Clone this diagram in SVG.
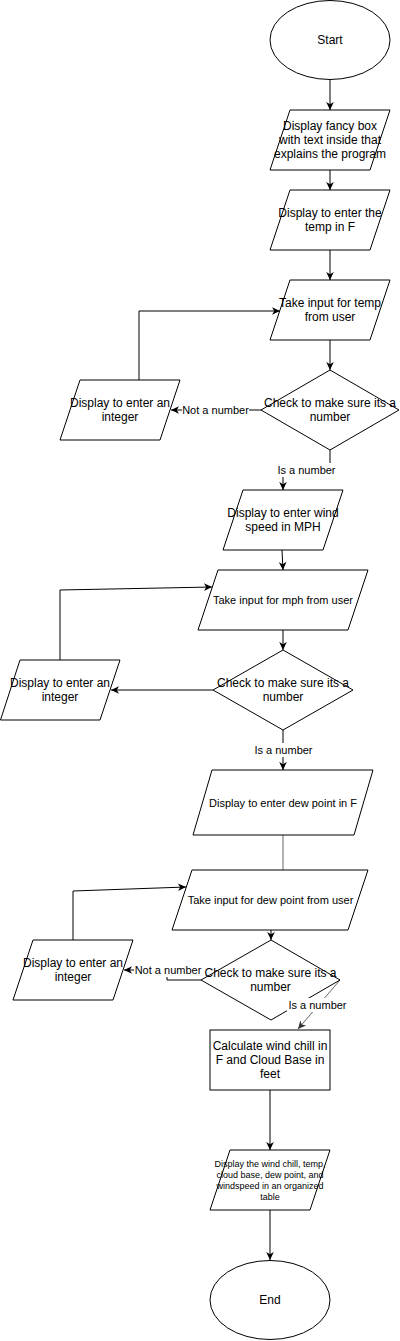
<svg xmlns="http://www.w3.org/2000/svg" width="400" height="1341" viewBox="0 0 400 1341">
<style>
.s{fill:#fff;stroke:#000;stroke-width:1}
.t{font-family:"Liberation Sans",Arial,sans-serif;font-size:12px;fill:#000;text-anchor:middle}
.m{font-size:11px}
.x{font-size:9px}
.c{fill:none;stroke:#000;stroke-width:1}
.g{stroke:#666}
.lb{fill:#fff}
.lt{font-family:"Liberation Sans",Arial,sans-serif;font-size:11px;fill:#000;text-anchor:middle}
</style>
<defs>
<marker id="a" markerUnits="userSpaceOnUse" markerWidth="10" markerHeight="10" refX="9" refY="5" orient="auto">
<path d="M1,1.2 L9,5 L1,8.8 L3.2,5 Z" fill="#000"/>
</marker>
<marker id="ag" markerUnits="userSpaceOnUse" markerWidth="10" markerHeight="10" refX="9" refY="5" orient="auto">
<path d="M1,1.2 L9,5 L1,8.8 L3.2,5 Z" fill="#333"/>
</marker>
</defs>
<g id="connectors">
<path class="c" d="M330,80 L330,110" marker-end="url(#a)"/>
<path class="c" d="M330,170 L330,190" marker-end="url(#a)"/>
<path class="c" d="M330,250 L330,280" marker-end="url(#a)"/>
<path class="c" d="M330,340 L330,370" marker-end="url(#a)"/>
<path class="c" d="M262,410 L171,410" marker-end="url(#a)"/>
<path class="c" d="M139,380 L139,311 L280,311" marker-end="url(#a)"/>
<path class="c" d="M330,450 L330,470 L283,470 L283,490" marker-end="url(#a)"/>
<path class="c" d="M282,550 L283,570" marker-end="url(#a)"/>
<path class="c" d="M283,630 L283,650" stroke-width="1.5" marker-end="url(#a)"/>
<path class="c" d="M213,690 L111,690" marker-end="url(#a)"/>
<path class="c" d="M60,660 L60,590 L212,587" marker-end="url(#a)"/>
<path class="c" d="M283,730 L283,770" marker-end="url(#a)"/>
<path class="c g" d="M283,835 L283,870"/>
<path class="c" d="M73,940 L73,891 L186,887" marker-end="url(#a)"/>
<path class="c" d="M271,930 L271,940" stroke-width="1.5" marker-end="url(#a)"/>
<path class="c" d="M201,980 L167,980 L167,970 L124,970" marker-end="url(#a)"/>
<path class="c g" d="M340,980 L298,1029" marker-end="url(#ag)"/>
<path class="c" d="M270,1090 L270,1150" marker-end="url(#a)"/>
<path class="c" d="M270,1210 L270,1260" marker-end="url(#a)"/>
</g>
<g id="start">
<ellipse class="s" cx="330" cy="40" rx="60" ry="39.5"/>
<text class="t" x="330" y="44">Start</text>
</g>
<g id="display-intro">
<polygon class="s" points="290,110 390,110 370,170 270,170"/>
<text class="t" x="330" y="130">Display fancy box</text>
<text class="t" x="330" y="144">with text inside that</text>
<text class="t" x="330" y="158">explains the program</text>
</g>
<g id="display-temp">
<polygon class="s" points="290,190 390,190 370,250 270,250"/>
<text class="t" x="330" y="217">Display to enter the</text>
<text class="t" x="330" y="231">temp in F</text>
</g>
<g id="input-temp">
<polygon class="s" points="290,280 390,280 370,340 270,340"/>
<text class="t" x="330" y="307">Take input for temp</text>
<text class="t" x="330" y="321">from user</text>
</g>
<g id="check-temp">
<polygon class="s" points="330,370 399,410 330,450 261,410"/>
<text class="t" x="330" y="407">Check to make sure its a</text>
<text class="t" x="330" y="421">number</text>
</g>
<g id="error-temp">
<polygon class="s" points="80,380 180,380 160,440 60,440"/>
<text class="t" x="120" y="407">Display to enter an</text>
<text class="t" x="120" y="421">integer</text>
</g>
<g id="display-wind">
<polygon class="s" points="243,490 343,490 323,550 223,550"/>
<text class="t" x="283" y="517">Display to enter wind</text>
<text class="t" x="283" y="531">speed in MPH</text>
</g>
<g id="input-mph">
<polygon class="s" points="218,570 368,570 348,630 198,630"/>
<text class="t m" x="283" y="604">Take input for mph from user</text>
</g>
<g id="check-mph">
<polygon class="s" points="283,650 353,690 283,730 213,690"/>
<text class="t" x="283" y="687">Check to make sure its a</text>
<text class="t" x="283" y="701">number</text>
</g>
<g id="error-mph">
<polygon class="s" points="20,660 120,660 100,720 0.5,720"/>
<text class="t" x="60" y="687">Display to enter an</text>
<text class="t" x="60" y="701">integer</text>
</g>
<g id="display-dew">
<polygon class="s" points="212,770 373,770 354,835 193,835"/>
<text class="t m" x="283" y="806.5">Display to enter dew point in F</text>
</g>
<g id="input-dew">
<polygon class="s" points="192,870 368,870 348,930 172,930"/>
<text class="t m" x="270.5" y="904">Take input for dew point from user</text>
</g>
<g id="check-dew">
<polygon class="s" points="271,940 340,980 271,1020 201,980"/>
<text class="t" x="270.5" y="977">Check to make sure its a</text>
<text class="t" x="270.5" y="991">number</text>
</g>
<g id="error-dew">
<polygon class="s" points="33,940 133,940 113,1000 13,1000"/>
<text class="t" x="73" y="967">Display to enter an</text>
<text class="t" x="73" y="981">integer</text>
</g>
<g id="calculate">
<rect class="s" x="210" y="1030" width="120" height="60"/>
<text class="t" x="270" y="1050">Calculate wind chill in</text>
<text class="t" x="270" y="1064">F and Cloud Base in</text>
<text class="t" x="270" y="1078">feet</text>
</g>
<g id="display-table">
<polygon class="s" points="230,1150 330,1150 310,1210 210,1210"/>
<text class="t x" x="270" y="1167">Display the wind chill, temp,</text>
<text class="t x" x="270" y="1178">cloud base, dew point, and</text>
<text class="t x" x="270" y="1189">windspeed in an organized</text>
<text class="t x" x="270" y="1200">table</text>
</g>
<g id="end">
<ellipse class="s" cx="270" cy="1300" rx="60" ry="39.5"/>
<text class="t" x="270" y="1304">End</text>
</g>
<g id="connector-labels">
<rect class="lb" x="182" y="403" width="67" height="14"/>
<text class="lt" x="215.5" y="414">Not a number</text>
<rect class="lb" x="276" y="463" width="61" height="14"/>
<text class="lt" x="306.5" y="474">Is a number</text>
<rect class="lb" x="253" y="743" width="61" height="14"/>
<text class="lt" x="283.5" y="754">Is a number</text>
<rect class="lb" x="134" y="963" width="68" height="14"/>
<text class="lt" x="168" y="974">Not a number</text>
<rect class="lb" x="287" y="998" width="61" height="14"/>
<text class="lt" x="317.5" y="1009">Is a number</text>
</g>
</svg>
